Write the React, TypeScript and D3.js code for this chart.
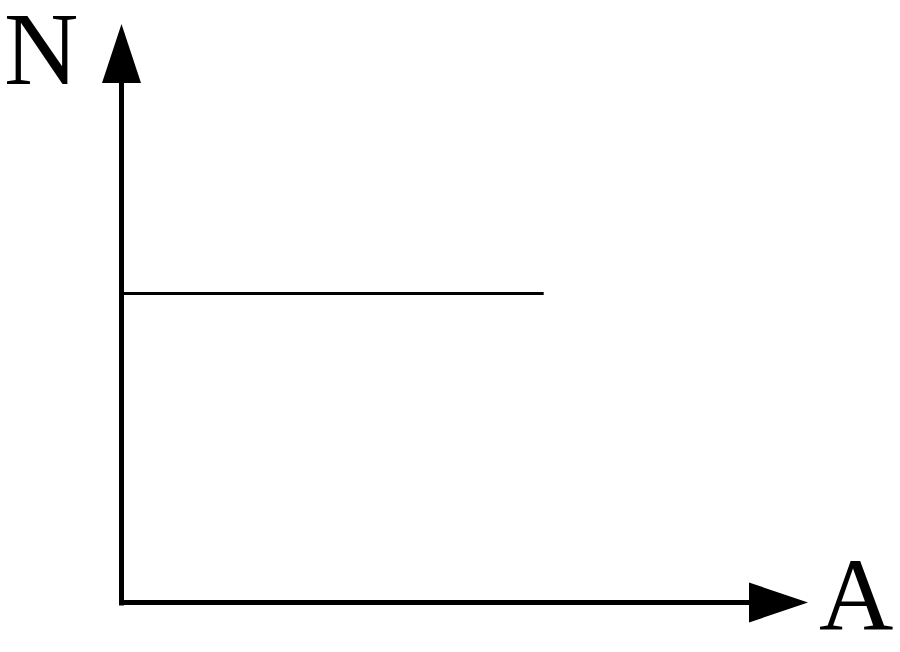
import React from "react";
import * as d3 from "d3";

const axisLabels = ["A", "N"];
const lineA = [0, 61.5];
const lineN = [53.4, 53.4];

export default function App() {
  const W = 900, H = 652;
  const x = d3.scaleLinear().domain([0, 100]).range([121.5, 808]);
  const y = d3.scaleLinear().domain([0, 100]).range([602.5, 24]);
  const pts: [number, number][] = lineA.map((a, i) => [x(a), y(lineN[i])]);
  const line = d3.line<[number, number]>().x(d => d[0]).y(d => d[1]);
  const x0 = x(0), y0 = y(0);
  const xTip = x(100), yTip = y(100);
  return (
    <svg width={W} height={H} style={{ position: "absolute", left: 0, top: 0, background: "#fff" }}>
      <rect width={W} height={H} fill="#fff" />
      {/* y axis */}
      <line x1={x0} y1={y0 + 3} x2={x0} y2={yTip + 59} stroke="#000" strokeWidth={5} />
      <path d={`M${x0},${yTip} L${x0 - 19.5},${yTip + 59} L${x0 + 19.5},${yTip + 59} Z`} fill="#000" />
      {/* x axis */}
      <line x1={x0 - 2.5} y1={y0} x2={xTip - 58} y2={y0} stroke="#000" strokeWidth={5} />
      <path d={`M${xTip},${y0} L${xTip - 59},${y0 - 20} L${xTip - 59},${y0 + 20} Z`} fill="#000" />
      {/* data line */}
      <path d={line(pts) || ""} fill="none" stroke="#000" strokeWidth={3} />
      <text x={4} y={84} fontFamily="'Liberation Serif', 'Times New Roman', serif" fontSize={103} fill="#000">{axisLabels[1]}</text>
      <text x={819} y={630} fontFamily="'Liberation Serif', 'Times New Roman', serif" fontSize={103} fill="#000">{axisLabels[0]}</text>
    </svg>
  );
}
